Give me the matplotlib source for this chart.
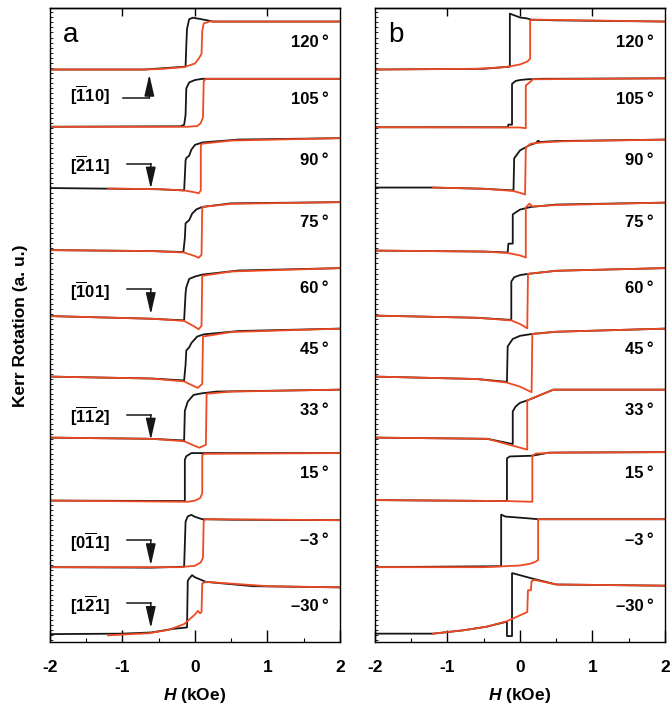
import numpy as np
import matplotlib
matplotlib.use("Agg")
import matplotlib.pyplot as plt
from matplotlib.ticker import MultipleLocator
from matplotlib.transforms import blended_transform_factory

plt.rcParams.update({
    "font.family": ["Liberation Sans", "DejaVu Sans"],
    "mathtext.fontset": "custom",
    "mathtext.rm": "Liberation Sans",
    "mathtext.bf": "Liberation Sans:bold",
    "mathtext.it": "Liberation Sans:italic:bold",
    "axes.unicode_minus": False,
})

# ---------------- data ----------------
angles = [120, 105, 90, 75, 60, 45, 33, 15, -3, -30]
angle_labels = ["120\u2009°", "105\u2009°", "90\u2009°", "75\u2009°", "60\u2009°",
                "45\u2009°", "33\u2009°", "15\u2009°", "\u20133\u2009°", "\u201330\u2009°"]
x_ticks = [-2, -1, 0, 1, 2]

# (H [kOe], normalized Kerr signal) ; black = descending branch, orange = ascending branch
a_black = [
    [(2, 1.0), (0.25, 1.0), (0.05, 1.12), (-0.03, 1.16), (-0.08, 1.1), (-0.11, 0.7), (-0.12, 0.0), (-0.13, -0.88), (-0.5, -0.96), (-0.7, -1.0), (-2, -1.0)],
    [(2, 1.0), (0.1, 1.0), (0.0, 0.95), (-0.08, 0.85), (-0.12, 0.6), (-0.13, -0.5), (-0.15, -0.92), (-0.2, -0.98), (-2, -1.0)],
    [(2, 1.08), (0.6, 1.02), (0.1, 0.9), (0.0, 0.8), (-0.05, 0.6), (-0.08, 0.35), (-0.12, 0.25), (-0.13, 0.15), (-0.14, -0.5), (-0.15, -1.1), (-0.5, -1.05), (-2, -1.0)],
    [(2, 1.0), (0.5, 0.95), (0.1, 0.8), (0.02, 0.7), (-0.04, 0.52), (-0.08, 0.25), (-0.13, 0.12), (-0.14, -0.5), (-0.16, -1.08), (-0.6, -1.04), (-2, -1.0)],
    [(2, 1.0), (0.6, 0.9), (0.1, 0.73), (0.0, 0.65), (-0.08, 0.55), (-0.12, 0.2), (-0.13, -0.05), (-0.15, -1.18), (-0.6, -1.11), (-2, -1.0)],
    [(2, 1.0), (0.6, 0.9), (0.12, 0.76), (0.03, 0.67), (-0.05, 0.4), (-0.08, 0.22), (-0.12, 0.09), (-0.13, -0.5), (-0.15, -1.16), (-0.6, -1.08), (-2, -1.0)],
    [(2, 1.0), (0.3, 0.92), (0.1, 0.85), (-0.02, 0.78), (-0.1, 0.5), (-0.14, 0.12), (-0.15, -1.12), (-0.6, -1.05), (-2, -1.0)],
    [(2, 0.98), (0.2, 0.98), (-0.05, 0.98), (-0.12, 0.85), (-0.14, 0.7), (-0.14, -1.02), (-2, -1.0)],
    [(2, 0.96), (0.5, 0.98), (0.1, 1.0), (0.0, 1.1), (-0.05, 1.18), (-0.1, 1.12), (-0.13, 0.9), (-0.15, -0.98), (-0.6, -1.02), (-2, -1.0)],
    [(2, 0.93), (0.8, 0.98), (0.15, 1.16), (0.0, 1.35), (-0.04, 1.44), (-0.08, 1.3), (-0.1, 1.2), (-0.11, -0.74), (-0.3, -0.8), (-0.6, -0.95), (-1.0, -1.0), (-2, -1.02)],
]
a_orange = [
    [(-2, -1.0), (-0.7, -1.0), (-0.5, -0.98), (-0.15, -0.9), (0.0, -0.75), (0.05, -0.55), (0.09, -0.35), (0.1, 0.6), (0.12, 0.92), (0.2, 1.0), (2, 1.0)],
    [(-2, -1.0), (-0.1, -1.0), (0.03, -0.97), (0.08, -0.85), (0.11, -0.6), (0.12, 0.9), (0.15, 1.0), (2, 1.0)],
    [(-1.2, -1.02), (-0.5, -1.05), (-0.15, -1.1), (0.0, -1.18), (0.05, -1.22), (0.08, -1.1), (0.08, 0.8), (0.1, 0.85), (0.5, 0.98), (2, 1.08)],
    [(-2, -1.0), (-0.6, -1.04), (-0.15, -1.1), (0.0, -1.25), (0.05, -1.32), (0.09, -1.2), (0.1, 0.8), (0.5, 0.93), (2, 1.0)],
    [(-2, -1.0), (-0.6, -1.11), (-0.15, -1.2), (0.0, -1.45), (0.05, -1.55), (0.09, -1.4), (0.1, 0.68), (0.5, 0.86), (2, 1.0)],
    [(-2, -1.0), (-0.6, -1.08), (-0.15, -1.2), (0.0, -1.42), (0.04, -1.47), (0.1, -1.3), (0.11, 0.67), (0.5, 0.86), (2, 1.0)],
    [(-2, -1.0), (-0.6, -1.05), (-0.15, -1.15), (0.0, -1.35), (0.06, -1.42), (0.15, -1.3), (0.16, 0.83), (0.5, 0.92), (2, 1.0)],
    [(-2, -1.0), (-0.1, -1.05), (0.0, -1.0), (0.07, -0.9), (0.1, -0.7), (0.1, 0.9), (0.13, 0.95), (2, 0.98)],
    [(-2, -1.0), (-0.2, -1.0), (0.0, -0.94), (0.08, -0.8), (0.11, -0.6), (0.12, 0.95), (0.15, 1.0), (2, 0.96)],
    [(-1.2, -1.07), (-0.63, -0.98), (-0.36, -0.84), (-0.15, -0.6), (0.0, -0.2), (0.04, -0.05), (0.07, -0.15), (0.09, -0.1), (0.1, 1.1), (0.15, 1.16), (1.0, 0.98), (2, 0.93)],
]
b_black = [
    [(2, 1.0), (0.5, 1.05), (0.15, 1.08), (0.1, 1.13), (0.0, 1.17), (-0.14, 1.33), (-0.14, -0.88), (-0.5, -0.97), (-2, -1.0)],
    [(2, 1.02), (0.3, 1.0), (0.1, 0.98), (0.0, 0.95), (-0.06, 0.91), (-0.11, 0.79), (-0.11, -0.91), (-0.16, -0.91), (-0.17, -1.02), (-2, -1.02)],
    [(2, 1.02), (0.5, 0.96), (0.28, 0.92), (0.25, 0.97), (0.22, 0.88), (0.14, 0.8), (0.0, 0.57), (-0.08, 0.24), (-0.09, -1.1), (-0.5, -1.03), (-1.2, -0.98), (-2, -0.98)],
    [(2, 0.98), (0.5, 0.9), (0.15, 0.8), (0.0, 0.69), (-0.1, 0.49), (-0.1, -0.73), (-0.16, -0.73), (-0.17, -1.1), (-0.5, -1.06), (-2, -1.02)],
    [(2, 1.0), (0.5, 0.89), (0.11, 0.76), (0.0, 0.71), (-0.08, 0.62), (-0.12, 0.44), (-0.12, -1.16), (-0.6, -1.07), (-2, -0.98)],
    [(2, 1.0), (0.5, 0.87), (0.17, 0.78), (0.0, 0.7), (-0.1, 0.57), (-0.17, 0.26), (-0.18, -1.22), (-0.6, -1.1), (-2, -1.0)],
    [(2, 1.0), (0.46, 1.0), (0.1, 0.55), (0.0, 0.45), (-0.06, 0.3), (-0.1, 0.09), (-0.1, -1.27), (-0.45, -1.05), (-2, -1.0)],
    [(2, 1.02), (0.4, 1.0), (0.17, 0.87), (-0.14, 0.84), (-0.18, 0.76), (-0.18, -1.02), (-2, -0.98)],
    [(2, 1.0), (0.25, 1.0), (0.1, 1.04), (-0.2, 1.11), (-0.26, 1.19), (-0.26, -0.96), (-2, -1.0)],
    [(2, 1.0), (0.5, 1.05), (0.18, 1.29), (-0.1, 1.52), (-0.11, 1.52), (-0.11, -1.1), (-0.18, -1.1), (-0.18, -0.5), (-0.46, -0.71), (-0.78, -0.86), (-1.2, -1.0), (-2, -1.0)],
]
b_orange = [
    [(-2, -1.0), (-0.6, -0.97), (-0.2, -0.9), (0.0, -0.79), (0.1, -0.67), (0.14, -0.55), (0.14, 1.05), (0.2, 1.08), (2, 1.0)],
    [(-2, -1.02), (0.0, -1.03), (0.08, -1.06), (0.08, 0.72), (0.14, 0.87), (0.18, 0.98), (2, 1.02)],
    [(-1.2, -0.98), (-0.5, -1.03), (-0.1, -1.12), (0.0, -1.2), (0.07, -1.27), (0.08, 0.69), (0.15, 0.85), (0.3, 0.9), (0.6, 0.95), (2, 1.02)],
    [(-2, -1.02), (-0.5, -1.06), (-0.17, -1.12), (0.0, -1.22), (0.08, -1.31), (0.08, 0.78), (0.13, 0.94), (0.17, 0.82), (0.5, 0.88), (2, 0.98)],
    [(-2, -0.98), (-0.6, -1.07), (-0.12, -1.18), (0.0, -1.33), (0.1, -1.51), (0.11, 0.76), (0.5, 0.89), (2, 1.0)],
    [(-2, -1.0), (-0.6, -1.1), (-0.18, -1.25), (0.0, -1.42), (0.16, -1.65), (0.17, 0.78), (0.5, 0.87), (2, 1.0)],
    [(-2, -1.0), (-0.45, -1.05), (0.1, -1.5), (0.1, 0.55), (0.46, 1.0), (2, 1.0)],
    [(-2, -0.98), (-0.2, -1.02), (0.17, -1.05), (0.17, 0.87), (0.22, 0.96), (0.5, 1.0), (2, 1.02)],
    [(-2, -1.0), (-0.5, -1.0), (0.0, -0.93), (0.15, -0.85), (0.21, -0.78), (0.25, -0.7), (0.25, 1.0), (2, 1.0)],
    [(-1.2, -1.0), (-0.78, -0.86), (-0.46, -0.71), (-0.18, -0.48), (0.1, -0.1), (0.11, 0.81), (0.15, 0.81), (0.16, 1.19), (0.2, 1.24), (0.5, 1.05), (2, 1.0)],
]

# crystallographic directions marked in panel a
dir_labels = [r"$\mathbf{[\overline{1}10]}$", r"$\mathbf{[\overline{2}11]}$", r"$\mathbf{[\overline{1}01]}$",
              r"$\mathbf{[\overline{1}\overline{1}2]}$", r"$\mathbf{[0\overline{1}1]}$", r"$\mathbf{[1\overline{2}1]}$"]
dir_rows = [105, 90, 60, 33, -3, -30]
dir_up = [True, False, False, False, False, False]

# ---------------- layout / style ----------------
BLACK = "#161616"
ORANGE = "#EE4A22"
SCALE = 0.382
NROW = len(angles)
row_shift = [-0.088, 0.0, 0.024, 0.035, -0.016, 0.02, 0.048, 0.045, -0.016, -0.075]

fig = plt.figure(figsize=(6.7, 7.08), dpi=100)
W, H = 670.0, 708.0
axa = fig.add_axes([50 / W, 1 - 642 / H, 290 / W, 634 / H])
axb = fig.add_axes([375 / W, 1 - 642 / H, 290 / W, 634 / H])


def setup(ax, letter):
    ax.set_xlim(-2, 2)
    ax.set_ylim(-0.59, 9.51)
    ax.set_xticks(x_ticks)
    ax.set_xticklabels([str(t) for t in x_ticks], fontweight="bold")
    ax.xaxis.set_minor_locator(MultipleLocator(0.5))
    ax.set_yticks([])
    ax.yaxis.set_minor_locator(MultipleLocator(0.08))
    ax.tick_params(axis="x", which="major", direction="in", length=8.5, width=1.0,
                   top=False, labelsize=12.5, pad=13)
    ax.tick_params(axis="x", which="minor", direction="in", length=3, width=0.8, top=False)
    ax.tick_params(axis="y", which="minor", direction="in", length=2.2, width=0.6,
                   left=True, right=False)
    for s in ax.spines.values():
        s.set_linewidth(1.0)
    sec = ax.secondary_xaxis("top")
    sec.set_xticks([-1, 0, 1])
    sec.tick_params(direction="in", length=6, width=1.0, labeltop=False)
    sec.spines["top"].set_linewidth(1.0)
    ax.set_xlabel(r"$\mathit{H}$ (kOe)", fontsize=12.5, fontweight="bold", labelpad=8)
    ax.text(0.045, 0.946, letter, transform=ax.transAxes, fontsize=20, va="baseline")


def draw(ax, blacks, oranges):
    tr = blended_transform_factory(ax.transAxes, ax.transData)
    for i, (bk, og) in enumerate(zip(blacks, oranges)):
        k = NROW - 1 - i + row_shift[i]
        hb, mb = np.array(bk).T
        ho, mo = np.array(og).T
        ax.plot(hb, k + SCALE * mb, color=BLACK, lw=1.3, solid_joinstyle="round")
        ax.plot(ho, k + SCALE * mo, color=ORANGE, lw=1.3, solid_joinstyle="round")
        ax.text(0.96, k + 0.05, angle_labels[i], transform=tr, ha="right", va="center",
                fontsize=12, fontweight="bold")


setup(axa, "a")
setup(axb, "b")
draw(axa, a_black, a_orange)
draw(axb, b_black, b_orange)

for lbl, ang, up in zip(dir_labels, dir_rows, dir_up):
    k = NROW - 1 - angles.index(ang)
    if up:
        yl, ytip, ytxt, x0, x1 = k + 0.075, k + 0.45, k + 0.11, -0.99, -0.63
    else:
        yl, ytip, ytxt, x0, x1 = k + 0.03, k - 0.37, k + 0.0, -0.94, -0.61
    axa.plot([x0, x1], [yl, yl], color=BLACK, lw=1.1)
    axa.annotate("", xy=(x1, ytip), xytext=(x1, yl),
                 arrowprops=dict(arrowstyle="-|>,head_length=1.3,head_width=0.3",
                                 color=BLACK, lw=1.1, shrinkA=0, shrinkB=0,
                                 mutation_scale=10))
    axa.text(-1.45, ytxt, lbl, ha="center", va="center", fontsize=12)

fig.text(21 / W, 1 - 326 / H, "Kerr Rotation (a. u.)", rotation=90, ha="center",
         va="center", fontsize=12.5, fontweight="bold")

fig.savefig("out.png", dpi=100)
